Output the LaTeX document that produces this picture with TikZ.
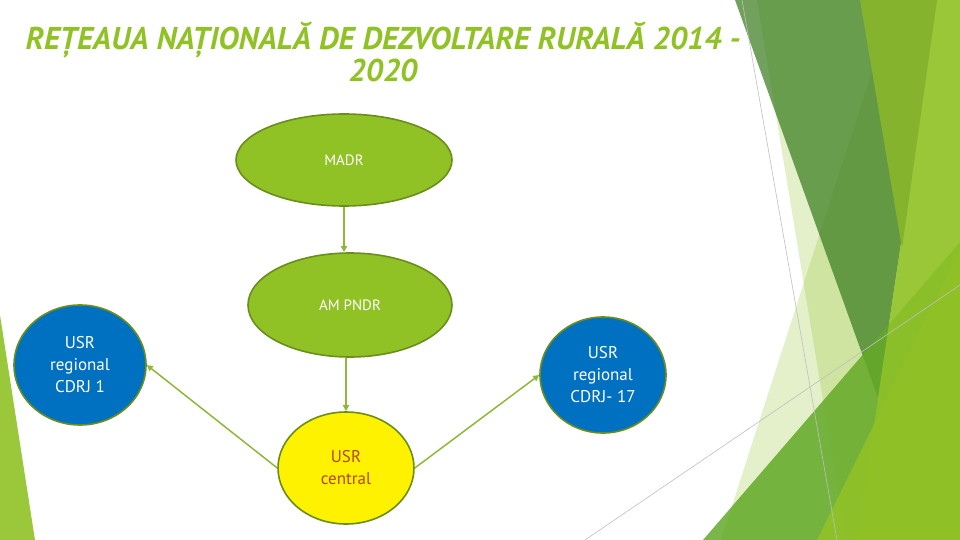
\documentclass[tikz,border=0pt]{standalone}
\usepackage{fontspec}
\setmainfont{PT Sans}
\usetikzlibrary{shapes.geometric,arrows.meta,positioning}
\definecolor{facetgreen}{HTML}{90C226}
\definecolor{bandgreen}{RGB}{58,125,30}
\definecolor{stripgreen}{HTML}{86B32E}
\definecolor{midgreen}{RGB}{99,169,40}
\definecolor{rimgreen}{HTML}{6A8E1C}
\definecolor{usrblue}{HTML}{0070C0}
\definecolor{linkgreen}{RGB}{140,185,55}
\definecolor{centraltext}{RGB}{176,72,20}

\begin{document}
\begin{tikzpicture}[x=1pt,y=-1pt,
	bubble/.style={ellipse,draw=rimgreen,line width=1.6pt,inner sep=0pt,align=center},
	greenbubble/.style={bubble,fill=facetgreen,text=white,font=\fontsize{15}{18}\selectfont},
	bluebubble/.style={bubble,fill=usrblue,text=white,font=\fontsize{17}{22}\selectfont},
	yellowbubble/.style={bubble,fill=yellow,text=centraltext,font=\fontsize{17}{22}\selectfont},
	link/.style={draw=linkgreen,line width=1.5pt,-{Triangle[length=6pt,width=6pt]}},
	facetline/.style={draw=black!25,line width=0.6pt}]
	\useasboundingbox (0,0) rectangle (960,540);
	% facets on the right
	\fill[facetgreen,opacity=.25] (895,0) -- (960,0) -- (960,540) -- (721,540) -- cycle;
	\fill[facetgreen,opacity=.25] (757,0) -- (960,0) -- (960,540) -- (846,540) -- cycle;
	\fill[bandgreen,opacity=.72] (735,0) -- (937,0) -- (878,398) -- cycle;
	\fill[midgreen,opacity=.85] (703,540) -- (960,242) -- (960,540) -- cycle;
	\fill[facetgreen,opacity=.85] (937,0) -- (960,0) -- (960,540) -- (857,540) -- cycle;
	\fill[stripgreen] (860,0) -- (937,0) -- (902,248) -- cycle;
	\fill[facetgreen,opacity=.9] (817,540) -- (960,250) -- (960,540) -- cycle;
	\draw[facetline] (742,0) -- (837,540);
	\draw[facetline] (585,540) -- (960,285);
	% facet on the left
	\fill[facetgreen,opacity=.9] (0,315) -- (0,540) -- (35,540) -- cycle;
	
	\node[align=center,text=facetgreen,font=\fontsize{31.5}{31}\selectfont\bfseries\itshape] (title) at (383,52) {REȚEAUA NAȚIONALĂ DE DEZVOLTARE RURALĂ 2014 -\\2020};
	
	\node[greenbubble,minimum width=216pt,minimum height=92pt] (madr) at (344,160) {MADR};
	\node[greenbubble,minimum width=204pt,minimum height=104pt] (ampndr) at (350,305) {AM PNDR};
	\node[bluebubble,minimum width=132pt,minimum height=120pt] (cdrj1) at (80,365) {USR\\regional\\CDRJ 1};
	\node[bluebubble,minimum width=126pt,minimum height=116pt] (cdrj17) at (603,375) {USR\\regional\\CDRJ- 17};
	\node[yellowbubble,minimum width=136pt,minimum height=112pt] (central) at (346,468) {USR\\central};
	
	\draw[link] (madr.south) -- (madr.south |- ampndr.north);
	\draw[link] (central.north |- ampndr.south) -- (central.north);
	\draw[link] (central.west) -- (cdrj1.east);
	\draw[link] (central.east) -- (cdrj17.west);
\end{tikzpicture}
\end{document}
